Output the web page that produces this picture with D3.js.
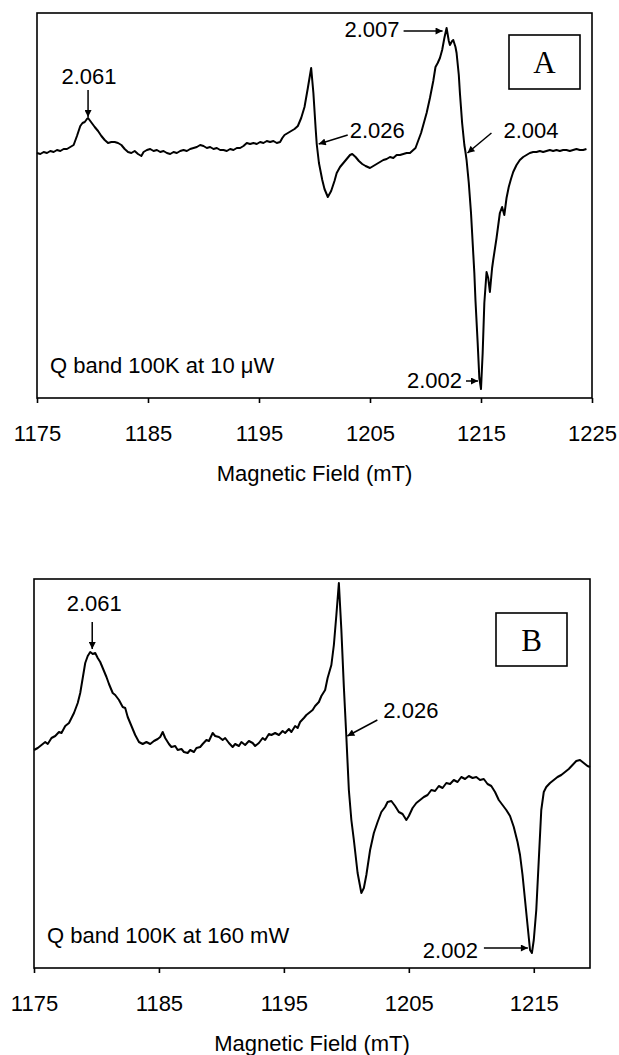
<!DOCTYPE html>
<html>
<head>
<meta charset="utf-8">
<title>Q band EPR spectra</title>
<script src="https://cdn.jsdelivr.net/npm/d3@7"></script>
<style>
  body { margin: 0; background: #fff; }
</style>
</head>
<body>
<script>
// ---- panel A: Q band 100K at 10 uW ----
var fieldA = [
  1175.0,1175.3,1175.6,1175.9,1176.2,1176.5,1176.8,1177.1,1177.4,1177.7,
  1178.0,1178.3,1178.6,1178.9,1179.1,1179.3,1179.5,1179.6,1179.8,1180.0,
  1180.2,1180.5,1180.8,1181.1,1181.4,1181.7,1182.0,1182.3,1182.6,1182.9,
  1183.2,1183.5,1183.8,1184.1,1184.4,1184.6,1184.9,1185.2,1185.5,1185.8,
  1186.1,1186.4,1186.7,1187.0,1187.3,1187.6,1187.9,1188.2,1188.5,1188.8,
  1189.1,1189.4,1189.7,1190.0,1190.3,1190.6,1190.9,1191.2,1191.5,1191.8,
  1192.1,1192.4,1192.7,1193.0,1193.3,1193.6,1193.9,1194.2,1194.5,1194.8,
  1195.1,1195.4,1195.7,1196.0,1196.3,1196.6,1196.9,1197.1,1197.3,1197.6,
  1197.9,1198.2,1198.5,1198.8,1199.1,1199.4,1199.7,1199.9,1200.1,1200.2,
  1200.4,1200.7,1200.9,1201.2,1201.5,1201.8,1202.0,1202.3,1202.6,1202.9,
  1203.2,1203.4,1203.7,1204.0,1204.3,1204.6,1205.0,1205.3,1205.6,1205.9,
  1206.2,1206.5,1206.8,1207.1,1207.4,1207.7,1208.0,1208.3,1208.6,1208.9,
  1209.1,1209.3,1209.6,1209.9,1210.1,1210.4,1210.7,1210.9,1211.1,1211.3,
  1211.5,1211.7,1211.9,1212.1,1212.2,1212.4,1212.5,1212.7,1212.8,1213.0,
  1213.1,1213.3,1213.5,1213.6,1213.7,1213.9,1214.1,1214.2,1214.4,1214.5,
  1214.7,1214.85,1215.0,1215.15,1215.3,1215.5,1215.65,1215.8,1216.0,1216.1,
  1216.4,1216.7,1216.9,1217.1,1217.3,1217.5,1217.7,1217.9,1218.2,1218.5,
  1218.8,1219.1,1219.4,1219.7,1220.0,1220.3,1220.6,1220.9,1221.2,1221.5,
  1221.8,1222.1,1222.4,1222.7,1223.0,1223.3,1223.6,1223.9,1224.2,1224.5
];
var signalA = [
  0,-1,1,0,2,1,3,2,4,4,
  6,8,17,27,30,31,34,35,32,29,
  26,22,17,13,10,11,11,10,8,4,
  1,0,2,-1,-3,1,3,4,2,3,
  1,2,0,-1,1,0,2,3,2,4,
  5,6,8,7,5,6,4,5,3,3,
  2,4,3,5,5,7,10,9,10,9,
  11,10,12,11,12,10,11,15,18,20,
  22,24,27,35,46,65,85,60,25,9,
  -10,-27,-36,-44,-38,-28,-20,-14,-10,-6,
  -2,-1,-4,-8,-11,-13,-15,-13,-11,-9,
  -7,-6,-4,-5,-2,-2,-1,0,0,3,
  5,11,20,32,40,55,72,86,90,95,
  103,115,125,112,108,112,113,106,100,78,
  60,30,8,1,-7,-30,-60,-80,-120,-147,
  -190,-225,-236,-200,-150,-119,-125,-139,-115,-107,
  -85,-60,-54,-62,-45,-34,-26,-19,-12,-7,
  -4,-2,0,1,1,2,1,2,3,2,
  3,2,3,3,2,3,4,3,3,4
];
var ticksA = [1175, 1185, 1195, 1205, 1215, 1225];
var gLabelsA = ["2.061", "2.026", "2.007", "2.004", "2.002"];
var gFieldsA = [1179.6, 1200.2, 1211.9, 1213.6, 1215.0];
var noteA = "Q band 100K at 10 \u03BCW";

// ---- panel B: Q band 100K at 160 mW ----
var fieldB = [
  1175.0,1175.3,1175.6,1175.9,1176.1,1176.4,1176.7,1177.0,1177.2,1177.5,
  1177.8,1178.0,1178.2,1178.5,1178.7,1178.9,1179.1,1179.3,1179.5,1179.7,
  1179.9,1180.1,1180.3,1180.5,1180.8,1181.0,1181.3,1181.5,1181.8,1182.1,
  1182.3,1182.5,1182.8,1183.1,1183.4,1183.7,1184.0,1184.3,1184.6,1184.9,
  1185.1,1185.3,1185.5,1185.8,1186.0,1186.3,1186.5,1186.8,1187.0,1187.3,
  1187.5,1187.8,1188.0,1188.3,1188.5,1188.8,1189.0,1189.3,1189.5,1189.8,
  1190.1,1190.3,1190.6,1190.9,1191.1,1191.4,1191.6,1191.9,1192.2,1192.5,
  1192.7,1193.0,1193.3,1193.5,1193.8,1194.0,1194.3,1194.6,1194.9,1195.1,
  1195.4,1195.6,1195.9,1196.1,1196.3,1196.6,1196.8,1197.1,1197.3,1197.5,
  1197.8,1198.0,1198.3,1198.5,1198.8,1199.0,1199.2,1199.4,1199.6,1199.8,
  1200.0,1200.2,1200.4,1200.6,1200.9,1201.2,1201.4,1201.6,1201.9,1202.2,
  1202.5,1202.8,1203.1,1203.3,1203.6,1203.9,1204.2,1204.5,1204.8,1205.0,
  1205.3,1205.6,1205.9,1206.2,1206.5,1206.8,1207.1,1207.4,1207.7,1208.0,
  1208.3,1208.6,1208.9,1209.2,1209.5,1209.8,1210.1,1210.4,1210.7,1211.0,
  1211.3,1211.6,1211.9,1212.2,1212.5,1212.8,1213.1,1213.4,1213.7,1213.9,
  1214.1,1214.3,1214.5,1214.7,1214.85,1215.0,1215.2,1215.4,1215.6,1215.8,
  1216.0,1216.3,1216.6,1216.9,1217.2,1217.5,1217.8,1218.1,1218.4,1218.7,
  1219.0,1219.3,1219.5
];
var signalB = [
  0,2,5,8,6,12,14,18,17,24,
  27,32,37,47,57,72,87,94,98,96,
  97,92,88,82,73,66,57,55,50,43,
  42,33,24,15,8,6,8,6,9,11,
  13,18,12,6,3,4,0,1,-2,-3,
  0,-2,2,3,6,10,9,17,14,13,
  10,12,7,3,6,4,8,5,9,7,
  4,7,12,10,16,15,17,15,19,17,
  21,18,24,22,28,32,35,38,40,44,
  48,54,60,72,85,105,135,167,120,63,
  13,-40,-70,-90,-123,-143,-138,-125,-100,-83,
  -72,-62,-57,-52,-51,-56,-62,-64,-70,-66,
  -58,-53,-50,-47,-45,-40,-41,-36,-38,-33,
  -34,-30,-32,-27,-29,-26,-28,-27,-30,-29,
  -34,-36,-42,-50,-55,-60,-66,-77,-92,-105,
  -125,-150,-175,-200,-203,-190,-160,-110,-60,-42,
  -37,-33,-30,-27,-25,-22,-19,-15,-11,-10,
  -13,-16,-17
];
var ticksB = [1175, 1185, 1195, 1205, 1215];
var gLabelsB = ["2.061", "2.026", "2.002"];
var gFieldsB = [1179.5, 1200.0, 1214.85];
var noteB = "Q band 100K at 160 mW";

var axisTitle = "Magnetic Field (mT)";

var sans = "'Liberation Sans', Arial, Helvetica, sans-serif";
var serif = "'Liberation Serif', 'Times New Roman', serif";

var svg = d3.select("body").append("svg")
    .attr("width", 619)
    .attr("height", 1055);

svg.append("defs").append("marker")
    .attr("id", "head")
    .attr("viewBox", "0 0 10 10")
    .attr("refX", 10).attr("refY", 5)
    .attr("markerWidth", 10).attr("markerHeight", 7)
    .attr("markerUnits", "userSpaceOnUse")
    .attr("orient", "auto")
  .append("path")
    .attr("d", "M0,0L10,5L0,10z")
    .attr("fill", "#000");

// linear lookup of the trace at a given field
function valueAt(field, signal, f) {
    var i = d3.bisectLeft(field, f);
    if (i <= 0) return signal[0];
    if (i >= field.length) return signal[signal.length - 1];
    var t = (f - field[i - 1]) / (field[i] - field[i - 1]);
    return signal[i - 1] + t * (signal[i] - signal[i - 1]);
}

function drawPanel(p) {
    var x = d3.scaleLinear().domain(p.xDomain).range([p.left, p.right]);
    var y = d3.scaleLinear().domain(p.yDomain).range([p.bottom, p.top]);
    var g = svg.append("g");

    var pts = p.field.map(function(f, i) { return [f, p.signal[i]]; });
    g.append("path")
        .datum(pts)
        .attr("d", d3.line().x(function(d) { return x(d[0]); }).y(function(d) { return y(d[1]); }))
        .attr("fill", "none")
        .attr("stroke", "#000")
        .attr("stroke-width", 2)
        .attr("stroke-linejoin", "round");

    g.append("rect")
        .attr("x", p.left).attr("y", p.top)
        .attr("width", p.right - p.left).attr("height", p.bottom - p.top)
        .attr("fill", "none").attr("stroke", "#000").attr("stroke-width", 1.6);

    var ax = g.append("g")
        .attr("transform", "translate(0," + p.bottom + ")")
        .call(d3.axisBottom(x).tickValues(p.ticks).tickFormat(d3.format("d"))
              .tickSize(5).tickPadding(22));
    ax.select(".domain").remove();
    ax.selectAll("line").attr("stroke-width", 1.6);
    ax.attr("font-size", 22).attr("font-family", sans);
    ax.selectAll("text").attr("fill", "#000");

    g.append("text")
        .attr("x", (p.left + p.right) / 2)
        .attr("y", p.bottom + 83)
        .attr("text-anchor", "middle")
        .attr("font-family", sans).attr("font-size", 22)
        .text(axisTitle);

    g.append("text")
        .attr("x", p.left + 13)
        .attr("y", p.bottom - 25)
        .attr("font-family", sans).attr("font-size", 22)
        .text(p.note);

    // panel letter in a box
    g.append("rect")
        .attr("x", p.box[0]).attr("y", p.box[1])
        .attr("width", p.box[2]).attr("height", p.box[3])
        .attr("fill", "none").attr("stroke", "#000").attr("stroke-width", 1.6);
    g.append("text")
        .attr("x", p.box[0] + p.box[2] / 2)
        .attr("y", p.box[1] + p.box[3] / 2 + 11)
        .attr("text-anchor", "middle")
        .attr("font-family", serif).attr("font-size", 31)
        .text(p.letter);

    // g-value annotations with arrows
    p.labels.forEach(function(lab, i) {
        var f = p.gFields[i];
        var px = x(f), py = y(valueAt(p.field, p.signal, f));
        var o = p.layout[i];
        g.append("text")
            .attr("x", px + o.tx).attr("y", py + o.ty)
            .attr("text-anchor", o.anchor)
            .attr("font-family", sans).attr("font-size", 22)
            .text(lab);
        g.append("line")
            .attr("x1", px + o.a[0]).attr("y1", py + o.a[1])
            .attr("x2", px + o.a[2]).attr("y2", py + o.a[3])
            .attr("stroke", "#000").attr("stroke-width", 1.5)
            .attr("marker-end", "url(#head)");
    });
}

drawPanel({
    field: fieldA, signal: signalA, ticks: ticksA,
    labels: gLabelsA, gFields: gFieldsA, note: noteA, letter: "A",
    xDomain: [1175, 1225], yDomain: [-245, 140],
    left: 37, right: 592, top: 13, bottom: 398,
    box: [509, 35, 71, 54],
    layout: [
        { tx: 1,   ty: -34, anchor: "middle", a: [0, -28, 0, -1] },
        { tx: 33,  ty: -6,  anchor: "start",  a: [31, -9, 2, 0] },
        { tx: -47, ty: 9,   anchor: "end",    a: [-43, 3, -4, 3] },
        { tx: 38,  ty: -14, anchor: "start",  a: [26, -19, 2, 1] },
        { tx: -19, ty: -1,  anchor: "end",    a: [-15, -8, -3, -8] }
    ]
});

drawPanel({
    field: fieldB, signal: signalB, ticks: ticksB,
    labels: gLabelsB, gFields: gFieldsB, note: noteB, letter: "B",
    xDomain: [1175, 1219.5], yDomain: [-218, 171],
    left: 34, right: 590, top: 579, bottom: 968,
    box: [496, 613, 71, 53],
    layout: [
        { tx: 4,   ty: -41, anchor: "middle", a: [2, -30, 2, -3] },
        { tx: 37,  ty: -19, anchor: "start",  a: [31, -17, 1, -1] },
        { tx: -54, ty: 5,   anchor: "end",    a: [-48, -5, -4, -5] }
    ]
});
</script>
</body>
</html>
